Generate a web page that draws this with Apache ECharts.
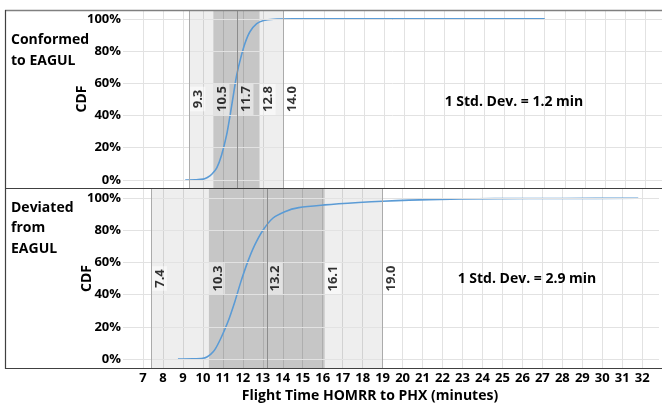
<!DOCTYPE html>
<html><head><meta charset="utf-8">
<script src="https://cdn.jsdelivr.net/npm/echarts@6/dist/echarts.min.js"></script>
<style>html,body{margin:0;padding:0;background:#fff}#c{width:662px;height:404px}</style>
</head><body><div id="c"></div>
<script>
// ---- data ----
const xTickLabels = [7,8,9,10,11,12,13,14,15,16,17,18,19,20,21,22,23,24,25,26,27,28,29,30,31,32];
const yTicks = [0,20,40,60,80,100];
const panelNames = ['Conformed\nto EAGUL', 'Deviated\nfrom\nEAGUL'];
const stdDevs = [1.2, 2.9];
// marks: mean-2sd, mean-1sd, mean, mean+1sd, mean+2sd
const conformedMarks = [9.3, 10.5, 11.7, 12.8, 14.0];
const deviatedMarks  = [7.4, 10.3, 13.2, 16.1, 19.0];
const conformedX = [9.1, 9.6, 10.0, 10.2, 10.42, 10.67, 10.91, 11.16, 11.33, 11.5, 11.66, 11.86, 12.08, 12.32, 12.66, 13.0, 13.5, 14.5, 20.0, 27.0];
const conformedY = [0, 0.1, 0.5, 1.5, 3.5, 7.5, 15.5, 28, 40, 53, 65, 75.6, 85, 92, 97, 99, 99.8, 100, 100, 100];
const deviatedX = [8.75, 9.5, 10.0, 10.2, 10.4, 10.6, 10.9, 11.25, 11.6, 11.9, 12.25, 12.6, 13.0, 13.5, 14.1, 14.8, 16.1, 17.8, 19.0, 21.3, 24.6, 28.0, 31.8];
const deviatedY = [0, 0.1, 0.5, 1.3, 3.0, 5.8, 12.9, 23, 35.7, 48, 60.6, 71, 80, 87.6, 91.7, 94.2, 95.9, 97.4, 98.2, 99.2, 99.8, 99.9, 100];

// ---- chart ----
const FONT = '"Open Sans", "Liberation Sans", sans-serif';
const chart = echarts.init(document.getElementById('c'));
const yRanges = [[-5, 105.5], [-5.6, 105.8]];
const grids = [
  {left: 123, right: 0, top: 10, height: 178},
  {left: 123, right: 0, top: 189, height: 179}
];
function panelSeries(i, xs, ys, marks) {
  const labelY = (yRanges[i][0] + yRanges[i][1]) / 2;
  return [
    { // bands + grid helper
      type: 'line', xAxisIndex: i, yAxisIndex: i, data: [], z: 1, silent: true,
      markArea: {
        silent: true,
        data: [
          [{xAxis: marks[0], itemStyle: {color: 'rgba(0,0,0,0.065)'}}, {xAxis: marks[4]}],
          [{xAxis: marks[1], itemStyle: {color: 'rgba(0,0,0,0.17)'}}, {xAxis: marks[3]}]
        ]
      },
      markLine: {
        silent: true, symbol: 'none', label: {show: false},
        data: yTicks.map(v => ({yAxis: v, lineStyle: {color: '#e2e2e2', width: 1, type: 'solid'}}))
          .concat([
            {xAxis: marks[0], lineStyle: {color: '#ababab', width: 1, type: 'solid'}},
            {xAxis: marks[2], lineStyle: {color: '#8c8c8c', width: 1, type: 'solid'}},
            {xAxis: marks[4], lineStyle: {color: '#ababab', width: 1, type: 'solid'}}
          ])
      }
    },
    {
      type: 'line', xAxisIndex: i, yAxisIndex: i, z: 3,
      data: xs.map((x, k) => [x, ys[k]]),
      smooth: 0.3, showSymbol: false, symbol: 'none',
      lineStyle: {color: '#5b9bd5', width: 1.6}
    },
    {
      type: 'scatter', xAxisIndex: i, yAxisIndex: i, z: 4, symbolSize: 0,
      data: marks.map(v => [v, labelY]),
      label: {
        show: true, position: 'inside', rotate: 90,
        align: 'center', verticalAlign: 'top',
        formatter: p => p.value[0].toFixed(1),
        fontFamily: FONT, fontWeight: 'bold', fontSize: 13, color: '#000',
        backgroundColor: 'rgba(255,255,255,0.6)', padding: [2, 3, 0, 3], lineHeight: 14
      }
    }
  ];
}
const xAxisBase = {
  type: 'value', min: 6, max: 32.84, interval: 1,
  axisLine: {show: false}, axisTick: {show: false},
  splitLine: {show: true, showMinLine: false, showMaxLine: false, lineStyle: {color: '#e2e2e2', width: 1}}
};
chart.setOption({
  animation: false,
  grid: grids,
  xAxis: [
    Object.assign({}, xAxisBase, {gridIndex: 0, axisLabel: {show: false}}),
    Object.assign({}, xAxisBase, {gridIndex: 1,
      axisLabel: {show: true, margin: 4, fontFamily: FONT, fontWeight: 'bold', fontSize: 13, color: '#000',
        formatter: v => xTickLabels.indexOf(v) >= 0 ? String(v) : ''},
      name: 'Flight Time HOMRR to PHX (minutes)', nameLocation: 'middle', nameGap: 21, nameMoveOverlap: false,
      nameTextStyle: {fontFamily: FONT, fontWeight: 'bold', fontSize: 14, color: '#000', padding: [0, 42, 0, 0]}
    })
  ],
  yAxis: [0, 1].map(i => ({
    type: 'value', gridIndex: i, min: yRanges[i][0], max: yRanges[i][1],
    axisLine: {show: false}, axisTick: {show: false}, splitLine: {show: false},
    axisLabel: {show: true, customValues: yTicks, formatter: '{value}%', margin: 2,
      fontFamily: FONT, fontWeight: 'bold', fontSize: 13, color: '#000'},
    name: 'CDF', nameLocation: 'middle', nameGap: 34 - i * 5, nameRotate: 90, nameMoveOverlap: false,
    nameTextStyle: {fontFamily: FONT, fontWeight: 'bold', fontSize: 14, color: '#000'}
  })),
  series: panelSeries(0, conformedX, conformedY, conformedMarks)
    .concat(panelSeries(1, deviatedX, deviatedY, deviatedMarks)),
  graphic: [
    {type: 'line', z: 100, shape: {x1: 5, y1: 10.5, x2: 662, y2: 10.5}, style: {stroke: '#808080', lineWidth: 1.5}},
    {type: 'line', z: 100, shape: {x1: 5, y1: 188.5, x2: 662, y2: 188.5}, style: {stroke: '#404040', lineWidth: 1.2}},
    {type: 'line', z: 100, shape: {x1: 5, y1: 368.5, x2: 662, y2: 368.5}, style: {stroke: '#404040', lineWidth: 1.2}},
    {type: 'line', z: 100, shape: {x1: 5.5, y1: 10, x2: 5.5, y2: 369}, style: {stroke: '#404040', lineWidth: 1.2}},
    {type: 'text', z: 100, left: 11, top: 29.5, style: {text: panelNames[0], font: 'bold 14px ' + FONT, fill: '#000', lineHeight: 21}},
    {type: 'text', z: 100, left: 11, top: 197.5, style: {text: panelNames[1], font: 'bold 14px ' + FONT, fill: '#000', lineHeight: 20.5}},
    {type: 'text', z: 100, x: 514, y: 102, style: {text: '1 Std. Dev. = ' + stdDevs[0] + ' min', font: 'bold 14px ' + FONT, fill: '#000', align: 'center', verticalAlign: 'middle'}},
    {type: 'text', z: 100, x: 527, y: 279, style: {text: '1 Std. Dev. = ' + stdDevs[1] + ' min', font: 'bold 14px ' + FONT, fill: '#000', align: 'center', verticalAlign: 'middle'}}
  ]
});
</script>
</body></html>
